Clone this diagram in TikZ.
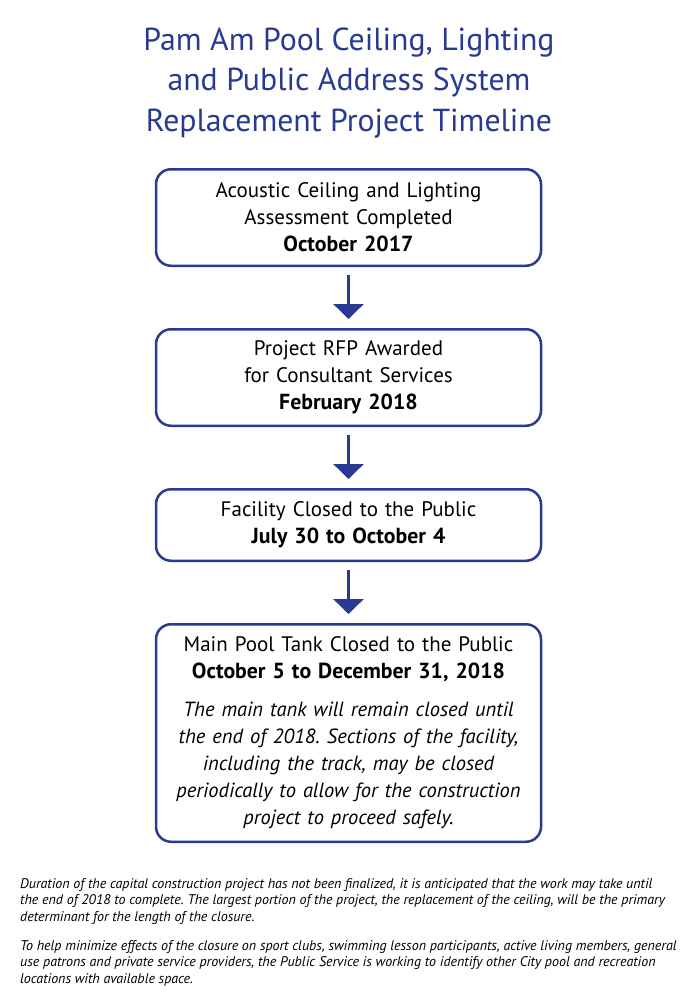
\documentclass[tikz,border=0pt]{standalone}
\usepackage{fontspec}
\setmainfont{PT Sans}
\usetikzlibrary{positioning,arrows.meta}
\definecolor{poolblue}{RGB}{40,58,146}
\newcommand{\when}[1]{{\bfseries\fontsize{21.8}{27}\selectfont #1}}
\tikzset{
  stage/.style={draw=poolblue, line width=2.5pt, rounded corners=15pt,
    minimum width=385pt, text width=370pt, align=center,
    font=\fontsize{21}{27}\selectfont, text=black},
  flow/.style={-{Triangle[width=30pt,length=15pt]}, draw=poolblue,
    line width=3pt, shorten <=8pt, shorten >=9pt},
  note/.style={anchor=north west, align=left, inner sep=0pt,
    font=\fontsize{14}{16.6}\selectfont\itshape}
}
\begin{document}
\frenchspacing
\begin{tikzpicture}[x=1pt,y=-1pt,node distance=61pt]
  \useasboundingbox[fill=white] (0,0) rectangle (690,1006);
  \node[align=center, text=poolblue, font=\fontsize{31.8}{40.5}\selectfont] (title) at (349,83)
    {Pam Am Pool Ceiling, Lighting\\and Public Address System\\Replacement Project Timeline};
  \node[stage, minimum height=96.5pt] (assess) at (348.5,217.5)
    {Acoustic Ceiling and Lighting\\Assessment Completed\\\when{October 2017}};
  \node[stage, minimum height=96.5pt] (rfp) [below=of assess]
    {Project RFP Awarded\\for Consultant Services\\\when{February 2018}};
  \node[stage, minimum height=71.5pt] (closed) [below=of rfp]
    {Facility Closed to the Public\\\when{July 30 to October 4}};
  \node[stage, minimum height=217.5pt] (tank) [below=of closed]
    {Main Pool Tank Closed to the Public\\\when{October 5 to December 31, 2018}\\[11pt]
     {\itshape\fontsize{20.5}{27}\selectfont The main tank will remain closed until\\the end of 2018. Sections of the facility,\\including the track, may be closed\\periodically to allow for the construction\\project to proceed safely.}};
  \draw[flow] (assess) -- (rfp);
  \draw[flow] (rfp) -- (closed);
  \draw[flow] (closed) -- (tank);
  % notes under the timeline
  \node[note] (duration) at (20,878)
    {Duration of the capital construction project has not been finalized, it is anticipated that the work may take until\\
     the end of 2018 to complete. The largest portion of the project, the replacement of the ceiling, will be the primary\\
     determinant for the length of the closure.};
  \node[note] (help) at (20,940)
    {To help minimize effects of the closure on sport clubs, swimming lesson participants, active living members, general\\
     use patrons and private service providers, the Public Service is working to identify other City pool and recreation\\
     locations with available space.};
\end{tikzpicture}
\end{document}
